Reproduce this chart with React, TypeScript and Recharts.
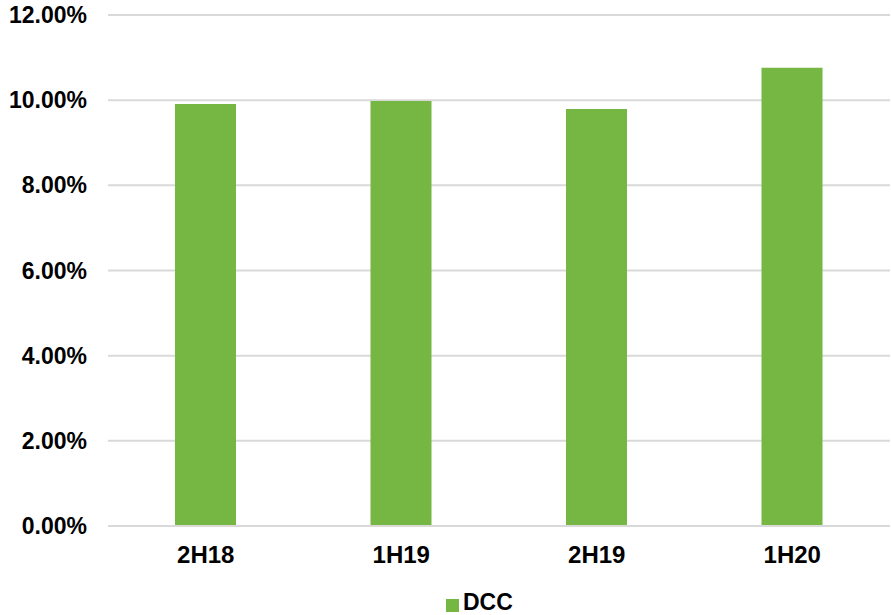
import { BarChart, Bar, XAxis, YAxis, CartesianGrid, Legend } from 'recharts';

const periods = ['2H18', '1H19', '2H19', '1H20'];
const dccValues = [9.91, 9.98, 9.79, 10.76];
const yTicks = [0, 2, 4, 6, 8, 10, 12];

const data = periods.map((period, i) => ({ period, DCC: dccValues[i] }));

const font = 'Arial, "Liberation Sans", sans-serif';

export default function App() {
  return (
    <div style={{ position: 'absolute', left: 0, top: 0, fontFamily: font }}>
      <BarChart
        width={891}
        height={615}
        data={data}
        margin={{ top: 15, right: 1, left: 0, bottom: 0 }}
      >
        <CartesianGrid vertical={false} stroke="#d9d9d9" strokeWidth={2} />
        <XAxis
          dataKey="period"
          axisLine={{ stroke: '#d9d9d9', strokeWidth: 2 }}
          tickLine={false}
          tickMargin={14}
          height={63}
          tick={{ fill: '#000', fontSize: 24, fontWeight: 'bold', fontFamily: font }}
        />
        <YAxis
          domain={[0, 12]}
          ticks={yTicks}
          width={108}
          axisLine={false}
          tickLine={false}
          tickMargin={15}
          tickFormatter={(v: number) => `${v.toFixed(2)}%`}
          tick={{ fill: '#000', fontSize: 23, fontWeight: 'bold', fontFamily: font }}
        />
        <Legend
          verticalAlign="bottom"
          align="left"
          iconType="square"
          iconSize={13}
          wrapperStyle={{ left: 446, width: 120, height: 26, lineHeight: '26px' }}
          formatter={(value: string) => (
            <span style={{ color: '#000', fontSize: 23, fontWeight: 'bold', fontFamily: font }}>{value}</span>
          )}
        />
        <Bar dataKey="DCC" fill="#76b743" barSize={61} isAnimationActive={false} />
      </BarChart>
    </div>
  );
}
